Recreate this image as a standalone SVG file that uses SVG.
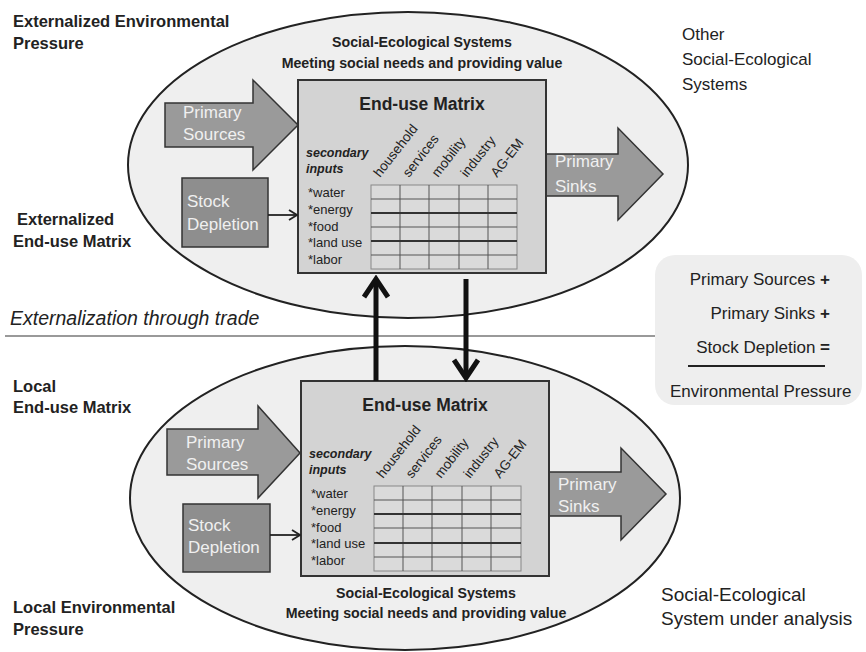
<svg xmlns="http://www.w3.org/2000/svg" width="866" height="652" viewBox="0 0 866 652">
<style>
text{font-family:"Liberation Sans",Arial,sans-serif;fill:#222}
.lbl{font-size:16.5px;font-weight:bold}
.ell{fill:#efefef;stroke:#222;stroke-width:2}
.mat{fill:#d3d3d3;stroke:#333;stroke-width:2}
.arw{fill:#9a9a9a;stroke:#333;stroke-width:1.5}
.box{fill:#8e8e8e;stroke:#333;stroke-width:1.5}
text.wt{fill:#f0f0f0;font-size:17px}
.ttl{font-size:17.5px;font-weight:bold;text-anchor:middle}
.ses{font-size:14.2px;font-weight:bold;text-anchor:middle}
.sec{font-size:12.5px;font-weight:bold;font-style:italic}
.row{font-size:13px}
.col{font-size:13.5px}
.grid{fill:#dadada;stroke:#888;stroke-width:1}
.gl{stroke:#555;stroke-width:1}
.gt{stroke:#333;stroke-width:1.8}
.sys{font-size:17px}
.big{font-size:19px}
.thick{stroke:#111;stroke-width:5;fill:none}
.thin{stroke:#222;stroke-width:1.8;fill:none}
.sep{stroke:#999;stroke-width:2}
.eq{font-size:17px;text-anchor:end}
</style>
<defs>
<marker id="mThick" markerUnits="userSpaceOnUse" viewBox="0 0 24 28" refX="20" refY="14" markerWidth="24" markerHeight="28" orient="auto">
<path d="M2,2 L20,14 L2,26" fill="none" stroke="#111" stroke-width="5"/>
</marker>
<marker id="mThin" markerUnits="userSpaceOnUse" viewBox="0 0 10 12" refX="9" refY="6" markerWidth="10" markerHeight="12" orient="auto">
<path d="M1,1 L9,6 L1,11" fill="none" stroke="#222" stroke-width="1.8"/>
</marker>
</defs>
<rect width="866" height="652" fill="#ffffff"/>

<g id="top-system">
<ellipse class="ell" cx="408" cy="165" rx="280" ry="153"/>
<text class="ses" x="422" y="47">Social-Ecological Systems</text>
<text class="ses" x="422" y="68">Meeting social needs and providing value</text>
</g>
<g id="bottom-system">
<ellipse class="ell" cx="405" cy="498" rx="275" ry="152"/>
<text class="ses" x="426" y="598">Social-Ecological Systems</text>
<text class="ses" x="426" y="618">Meeting social needs and providing value</text>
</g>

<g id="labels">
<text class="lbl" x="13" y="27">Externalized Environmental</text>
<text class="lbl" x="13" y="49">Pressure</text>
<text class="lbl" x="17" y="225">Externalized</text>
<text class="lbl" x="13" y="247">End-use Matrix</text>
<text class="lbl" x="13" y="392">Local</text>
<text class="lbl" x="13" y="413">End-use Matrix</text>
<text class="lbl" x="13" y="613">Local Environmental</text>
<text class="lbl" x="13" y="635">Pressure</text>
<text class="sys" x="682" y="40">Other</text>
<text class="sys" x="682" y="65">Social-Ecological</text>
<text class="sys" x="682" y="90">Systems</text>
<text class="big" x="661" y="601">Social-Ecological</text>
<text class="big" x="661" y="625">System under analysis</text>
</g>

<g id="trade">
<line class="sep" x1="5" y1="336" x2="655" y2="336"/>
<text x="10" y="325" style="font-size:19.5px;font-style:italic">Externalization through trade</text>
</g>

<g id="legend">
<rect x="655" y="255" width="207" height="150" rx="20" fill="#eeeeee"/>
<text class="eq" x="830" y="285">Primary Sources <tspan font-weight="bold">+</tspan></text>
<text class="eq" x="830" y="319">Primary Sinks  <tspan font-weight="bold">+</tspan></text>
<text class="eq" x="830" y="353">Stock Depletion  <tspan font-weight="bold">=</tspan></text>
<line x1="688" y1="366" x2="825" y2="366" stroke="#222" stroke-width="2"/>
<text x="670" y="397" style="font-size:17px">Environmental Pressure</text>
</g>

<g id="top-primary-sources">
<polygon class="arw" points="165,103 253,103 253,80 298,125 253,170 253,147 165,147"/>
<text class="wt" x="183" y="118">Primary</text>
<text class="wt" x="183" y="140">Sources</text>
</g>
<g id="top-stock-depletion">
<rect class="box" x="182" y="178" width="86" height="69"/>
<text class="wt" x="187" y="207">Stock</text>
<text class="wt" x="187" y="230">Depletion</text>
</g>
<g id="top-primary-sinks">
<polygon class="arw" points="546,154 618,154 618,128 663,174 618,220 618,196 546,196"/>
<text class="wt" x="555" y="167">Primary</text>
<text class="wt" x="555" y="192">Sinks</text>
</g>

<g id="top-matrix">
<rect class="mat" x="298" y="80" width="248" height="193"/>
<text class="ttl" x="422" y="110">End-use Matrix</text>
<text class="sec" x="306" y="157">secondary</text>
<text class="sec" x="306" y="173">inputs</text>
<text class="row" x="308" y="197">*water</text>
<text class="row" x="308" y="214">*energy</text>
<text class="row" x="308" y="231">*food</text>
<text class="row" x="308" y="247">*land use</text>
<text class="row" x="308" y="264">*labor</text>
<text class="col" transform="translate(380,178) rotate(-52)">household</text>
<text class="col" transform="translate(409,178) rotate(-52)">services</text>
<text class="col" transform="translate(438,178) rotate(-52)">mobility</text>
<text class="col" transform="translate(467,178) rotate(-52)">industry</text>
<text class="col" transform="translate(497,178) rotate(-52)">AG-EM</text>
<rect class="grid" x="371" y="185" width="146" height="84"/>
<g class="gl">
<line x1="400" y1="185" x2="400" y2="269"/><line x1="429" y1="185" x2="429" y2="269"/>
<line x1="459" y1="185" x2="459" y2="269"/><line x1="488" y1="185" x2="488" y2="269"/>
<line x1="371" y1="199" x2="517" y2="199"/><line x1="371" y1="227" x2="517" y2="227"/>
<line x1="371" y1="255" x2="517" y2="255"/>
</g>
<g class="gt">
<line x1="371" y1="213" x2="517" y2="213"/><line x1="371" y1="241" x2="517" y2="241"/>
</g>
</g>

<g id="bottom-primary-sources">
<polygon class="arw" points="167,429 258,429 258,406 300,453 258,498 258,475 167,475"/>
<text class="wt" x="186" y="448">Primary</text>
<text class="wt" x="186" y="470">Sources</text>
</g>
<g id="bottom-stock-depletion">
<rect class="box" x="183" y="504" width="87" height="68"/>
<text class="wt" x="188" y="531">Stock</text>
<text class="wt" x="188" y="553">Depletion</text>
</g>
<g id="bottom-primary-sinks">
<polygon class="arw" points="549,472 621,472 621,448 666,494 621,540 621,516 549,516"/>
<text class="wt" x="558" y="490">Primary</text>
<text class="wt" x="558" y="512">Sinks</text>
</g>

<g id="bottom-matrix">
<rect class="mat" x="301" y="381" width="248" height="195"/>
<text class="ttl" x="425" y="411">End-use Matrix</text>
<text class="sec" x="309" y="458">secondary</text>
<text class="sec" x="309" y="474">inputs</text>
<text class="row" x="311" y="498">*water</text>
<text class="row" x="311" y="515">*energy</text>
<text class="row" x="311" y="532">*food</text>
<text class="row" x="311" y="548">*land use</text>
<text class="row" x="311" y="565">*labor</text>
<text class="col" transform="translate(383,479) rotate(-52)">household</text>
<text class="col" transform="translate(412,479) rotate(-52)">services</text>
<text class="col" transform="translate(441,479) rotate(-52)">mobility</text>
<text class="col" transform="translate(470,479) rotate(-52)">industry</text>
<text class="col" transform="translate(500,479) rotate(-52)">AG-EM</text>
<rect class="grid" x="374" y="486" width="147" height="85"/>
<g class="gl">
<line x1="403" y1="486" x2="403" y2="571"/><line x1="432" y1="486" x2="432" y2="571"/>
<line x1="462" y1="486" x2="462" y2="571"/><line x1="491" y1="486" x2="491" y2="571"/>
<line x1="374" y1="500" x2="521" y2="500"/><line x1="374" y1="528" x2="521" y2="528"/>
<line x1="374" y1="557" x2="521" y2="557"/>
</g>
<g class="gt">
<line x1="374" y1="514" x2="521" y2="514"/><line x1="374" y1="543" x2="521" y2="543"/>
</g>
</g>

<g id="connectors">
<line class="thick" x1="376" y1="381" x2="376" y2="279" marker-end="url(#mThick)"/>
<line class="thick" x1="466" y1="279" x2="466" y2="378" marker-end="url(#mThick)"/>
<line class="thin" x1="268" y1="215" x2="297" y2="215" marker-end="url(#mThin)"/>
<line class="thin" x1="270" y1="535" x2="300" y2="535" marker-end="url(#mThin)"/>
</g>
</svg>
